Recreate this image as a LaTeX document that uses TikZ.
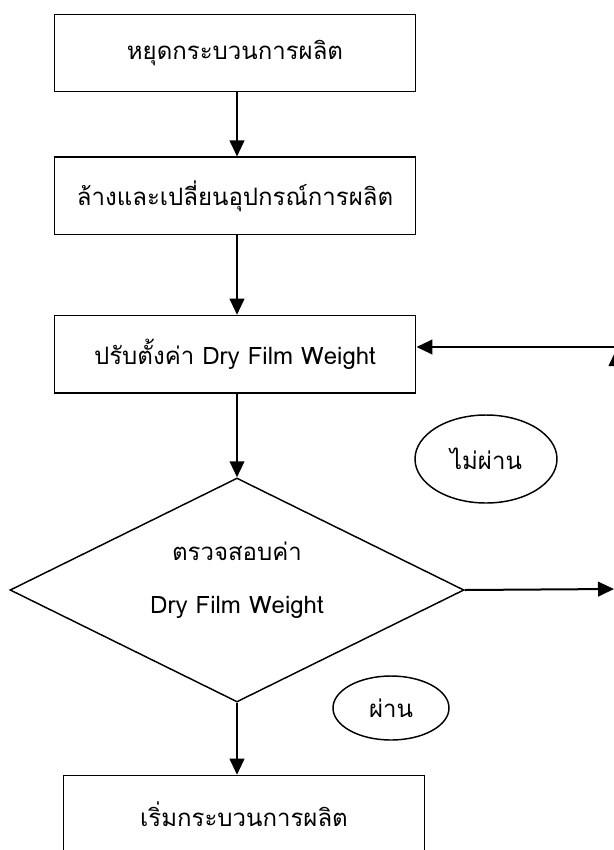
\documentclass[tikz,border=0pt]{standalone}
\usepackage{fontspec}
\newfontfamily\thaifont[Script=Thai]{Loma}
\usetikzlibrary{shapes.geometric,arrows.meta,positioning,calc}

\begin{document}
\begin{tikzpicture}[
    x=0.75pt, y=-0.75pt,
    procbox/.style={rectangle, draw=black, line width=1.2pt, align=center, minimum height=58pt, minimum width=271pt, font=\thaifont\fontsize{18}{21}\selectfont},
    decbox/.style={diamond, draw=black, line width=1.1pt, inner sep=0pt, minimum width=340.5pt, minimum height=168pt},
    tagell/.style={ellipse, draw=black, line width=1.1pt, inner sep=0pt, font=\thaifont\fontsize{18}{21}\selectfont},
    arrow/.style={-{Triangle[length=12pt, width=11pt]}, line width=1.5pt, draw=black}
]
    \clip (0,0) rectangle (614,850);
    \useasboundingbox (0,0) rectangle (614,850);
    \coordinate (axis) at (237,0);

    \node [procbox] (stop) at (235,53) {หยุดกระบวนการผลิต};
    \node [procbox, below=48pt of stop] (clean) {ล้างและเปลี่ยนอุปกรณ์การผลิต};
    \node [procbox, below=59.5pt of clean] (setw) {ปรับตั้งค่า Dry Film Weight};
    \node [decbox] (check) at (237,590) {};
    \node [font=\thaifont\fontsize{18}{21}\selectfont, align=center] (checktxt) at ($(check.center)+(0,-10)$) {ตรวจสอบค่า\\[19pt]Dry Film Weight};
    \node [procbox, below=54pt of check.south, anchor=north, xshift=5.25pt] (start) {เริ่มกระบวนการผลิต};

    \node [tagell, minimum width=106.5pt, minimum height=66pt] (fail) at (486,459) {ไม่ผ่าน};
    \node [tagell, minimum width=87pt, minimum height=48pt] (pass) at (391,708) {ผ่าน};

    \coordinate (outR) at (614,589);
    \coordinate (upR) at (616,589);
    \coordinate (upTop) at (616,350);
    \coordinate (backR) at (622,347);

    \draw [arrow] (stop.south -| axis) -- (clean.north -| axis);
    \draw [arrow] (clean.south -| axis) -- (setw.north -| axis);
    \draw [arrow] (setw.south -| axis) -- (check.north);
    \draw [arrow] (check.south) -- (check.south |- start.north);
    \draw [arrow] (check.east) -- (outR);
    \draw [arrow] (upR) -- (upTop);
    \draw [arrow] (backR) -- (backR -| setw.east);
\end{tikzpicture}
\end{document}
